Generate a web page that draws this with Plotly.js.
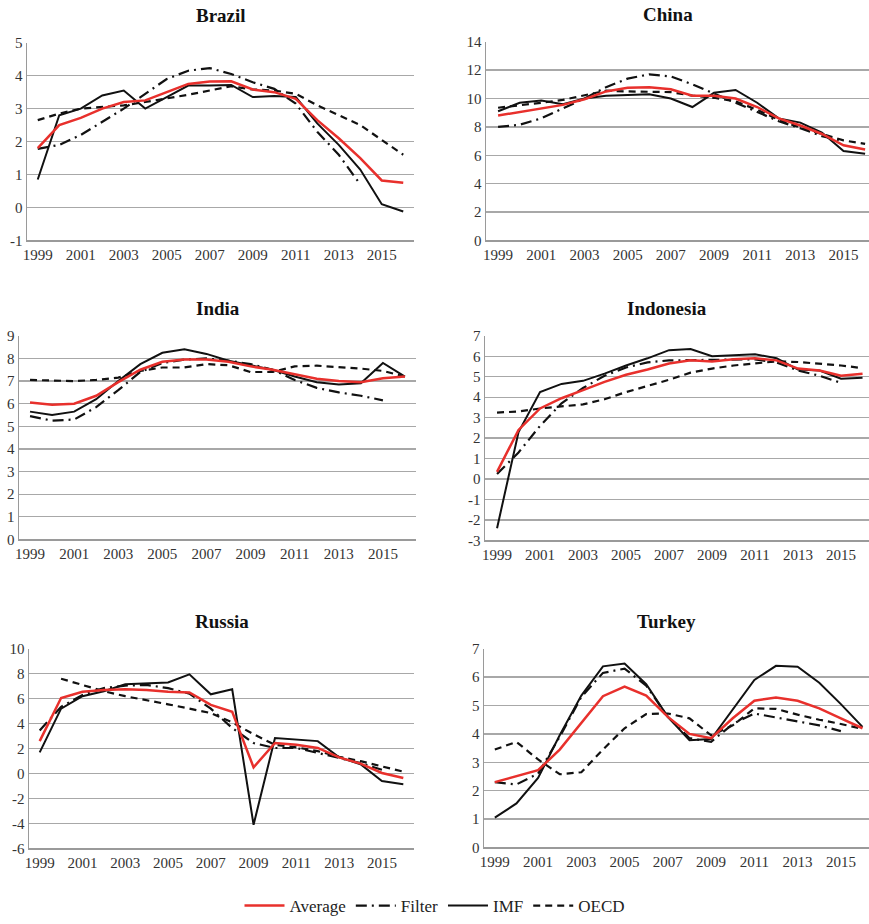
<!DOCTYPE html>
<html>
<head>
<meta charset="utf-8">
<script src="https://cdn.plot.ly/plotly-3.0.1.min.js"></script>
<style>html,body{margin:0;padding:0;background:#fff;}#chart{width:869px;height:924px;}</style>
</head>
<body>
<div id="chart"></div>
<script>
const years = [1999,2000,2001,2002,2003,2004,2005,2006,2007,2008,2009,2010,2011,2012,2013,2014,2015,2016];
const tickYears = [1999,2001,2003,2005,2007,2009,2011,2013,2015];
const seriesNames = ["Average", "Filter", "IMF", "OECD"];
const countries = ["Brazil", "China", "India", "Indonesia", "Russia", "Turkey"];

const brazilAvg    = [1.8,2.5,2.72,3.0,3.2,3.25,3.5,3.75,3.82,3.83,3.58,3.5,3.3,2.65,2.1,1.5,0.82,0.75];
const brazilFilter = [1.78,1.9,2.2,2.6,3.0,3.45,3.9,4.15,4.23,4.05,3.8,3.6,3.15,2.3,1.6,0.7,null,null];
const brazilIMF    = [0.85,2.8,3.0,3.4,3.55,3.0,3.35,3.7,3.7,3.72,3.35,3.38,3.35,2.55,1.9,1.15,0.1,-0.12];
const brazilOECD   = [2.65,2.85,3.0,3.05,3.1,3.2,3.3,3.42,3.55,3.68,3.58,3.55,3.45,3.1,2.8,2.5,2.05,1.6];

const chinaAvg    = [8.8,9.05,9.3,9.55,9.95,10.5,10.75,10.8,10.65,10.2,10.2,10.0,9.4,8.6,8.1,7.5,6.7,6.4];
const chinaFilter = [8.0,8.15,8.6,9.3,10.0,10.8,11.4,11.7,11.55,11.0,10.35,9.7,9.0,8.4,7.9,7.35,7.0,null];
const chinaIMF    = [9.1,9.7,9.85,9.6,10.0,10.2,10.25,10.3,10.0,9.4,10.4,10.6,9.7,8.6,8.3,7.6,6.3,6.1];
const chinaOECD   = [9.35,9.5,9.7,9.9,10.2,10.55,10.5,10.45,10.45,10.2,10.05,9.8,9.2,8.5,7.95,7.5,7.05,6.8];

const indiaAvg    = [6.05,5.95,6.0,6.35,6.95,7.5,7.85,7.95,7.95,7.85,7.65,7.5,7.3,7.1,7.0,6.95,7.12,7.2];
const indiaFilter = [5.45,5.25,5.3,5.85,6.6,7.4,7.8,7.95,8.0,7.9,7.75,7.5,7.05,6.7,6.5,6.35,6.15,null];
const indiaIMF    = [5.65,5.5,5.65,6.2,7.0,7.75,8.25,8.4,8.2,7.9,7.7,7.5,7.2,6.95,6.85,6.9,7.8,7.2];
const indiaOECD   = [7.05,7.02,7.0,7.05,7.15,7.45,7.6,7.6,7.75,7.7,7.4,7.4,7.65,7.68,7.62,7.55,7.45,7.2];

const indonesiaAvg    = [0.35,2.4,3.45,3.95,4.35,4.75,5.1,5.35,5.65,5.8,5.75,5.85,5.9,5.8,5.4,5.3,5.05,5.15];
const indonesiaFilter = [0.25,1.3,2.6,3.7,4.45,5.05,5.45,5.7,5.8,5.82,5.82,5.85,5.85,5.7,5.3,5.05,4.7,null];
const indonesiaIMF    = [-2.4,2.3,4.25,4.65,4.8,5.15,5.55,5.9,6.3,6.35,6.0,6.05,6.1,5.9,5.35,5.3,4.9,4.95];
const indonesiaOECD   = [3.25,3.3,3.45,3.55,3.65,3.9,4.25,4.55,4.85,5.2,5.4,5.55,5.65,5.75,5.72,5.65,5.55,5.42];

const russiaAvg    = [2.6,6.05,6.55,6.7,6.75,6.7,6.55,6.5,5.5,4.95,0.5,2.45,2.3,2.05,1.3,0.8,0.05,-0.35];
const russiaFilter = [3.45,5.35,6.3,6.85,7.05,7.1,6.85,6.4,5.2,3.65,2.45,2.05,2.05,1.65,1.25,0.85,0.3,null];
const russiaIMF    = [1.7,5.2,6.2,6.6,7.15,7.2,7.3,7.95,6.35,6.75,-4.1,2.85,2.75,2.6,1.3,0.75,-0.6,-0.85];
const russiaOECD   = [null,7.6,7.1,6.6,6.2,5.9,5.55,5.2,4.85,4.1,3.15,2.3,2.1,1.8,1.35,1.0,0.55,0.15];

const turkeyAvg    = [2.3,2.52,2.72,3.45,4.4,5.33,5.67,5.35,4.6,4.0,3.85,4.55,5.17,5.28,5.17,4.9,4.55,4.2];
const turkeyFilter = [2.3,2.22,2.6,3.9,5.3,6.15,6.3,5.7,4.6,3.85,3.72,4.35,4.72,4.58,4.45,4.3,4.1,null];
const turkeyIMF    = [1.05,1.55,2.45,3.95,5.35,6.38,6.48,5.75,4.6,3.78,3.82,4.85,5.9,6.4,6.37,5.8,5.05,4.25];
const turkeyOECD   = [3.45,3.72,3.1,2.58,2.65,3.45,4.2,4.7,4.72,4.55,3.95,4.3,4.9,4.88,4.68,4.5,4.35,4.18];

// y tick values per panel (labels written with a plain hyphen as in the original)
const brazilTicks    = [-1,0,1,2,3,4,5];
const chinaTicks     = [0,2,4,6,8,10,12,14];
const indiaTicks     = [0,1,2,3,4,5,6,7,8,9];
const indonesiaTicks = [-3,-2,-1,0,1,2,3,4,5,6,7];
const russiaTicks    = [-6,-4,-2,0,2,4,6,8,10];
const turkeyTicks    = [0,1,2,3,4,5,6,7];

const data = {
  Brazil:[brazilAvg,brazilFilter,brazilIMF,brazilOECD],
  China:[chinaAvg,chinaFilter,chinaIMF,chinaOECD],
  India:[indiaAvg,indiaFilter,indiaIMF,indiaOECD],
  Indonesia:[indonesiaAvg,indonesiaFilter,indonesiaIMF,indonesiaOECD],
  Russia:[russiaAvg,russiaFilter,russiaIMF,russiaOECD],
  Turkey:[turkeyAvg,turkeyFilter,turkeyIMF,turkeyOECD]
};
const yTicks = {Brazil:brazilTicks, China:chinaTicks, India:indiaTicks,
                Indonesia:indonesiaTicks, Russia:russiaTicks, Turkey:turkeyTicks};

// layout geometry (pixels)
const W = 869, H = 924;
const boxes = [
  {x0:27,  x1:414, y0:43,  y1:242, r:[1998.5,2016.5]},
  {x0:486, x1:869, y0:42,  y1:242, r:[1998.44,2016.18]},
  {x0:19,  x1:416, y0:338, y1:543, r:[1998.5,2016.5]},
  {x0:485, x1:869, y0:338, y1:544, r:[1998.44,2016.3]},
  {x0:29,  x1:414, y0:653, y1:854, r:[1998.5,2016.5]},
  {x0:484, x1:869, y0:653, y1:853, r:[1998.5,2016.3]}
];

const styles = [
  {color:'#e8302c', width:2.5, dash:'solid'},
  {color:'#111111', width:2.2, dash:'11px,5px,2px,5px'},
  {color:'#111111', width:2.0, dash:'solid'},
  {color:'#111111', width:2.2, dash:'7px,5px'}
];
const drawOrder = [3,1,2,0];

const FONT = '"Liberation Serif", "Times New Roman", serif';
const traces = [];
const layout = {
  width:W, height:H,
  margin:{l:0,r:0,t:0,b:0},
  paper_bgcolor:'#fff', plot_bgcolor:'rgba(0,0,0,0)',
  showlegend:true,
  legend:{orientation:'h', x:0.5, xanchor:'center', y:1-912/H, yanchor:'middle',
          font:{family:FONT,size:17,color:'#222'}, traceorder:'normal', itemwidth:40,
          bgcolor:'rgba(0,0,0,0)'},
  annotations:[]
};

countries.forEach((c,i)=>{
  const b = boxes[i];
  const ax = i===0 ? '' : String(i+1);
  drawOrder.forEach(s=>{
    traces.push({
      x: years, y: data[c][s], type:'scatter', mode:'lines',
      name: seriesNames[s], legendgroup: seriesNames[s],
      legendrank: s+1,
      showlegend: i===0,
      line: styles[s],
      connectgaps:false,
      xaxis:'x'+ax, yaxis:'y'+ax, hoverinfo:'skip'
    });
  });
  const yt = yTicks[c];
  layout['xaxis'+ax] = {
    domain:[b.x0/W, b.x1/W], anchor:'y'+ax, range:b.r,
    tickmode:'array', tickvals:tickYears, ticktext:tickYears.map(String),
    showgrid:false, zeroline:false, showline:true, linecolor:'#9a9a9a', linewidth:1.5,
    ticks:'', tickfont:{family:FONT,size:15,color:'#333'}, fixedrange:true
  };
  layout['yaxis'+ax] = {
    domain:[1-b.y1/H, 1-b.y0/H], anchor:'x'+ax, range:[yt[0], yt[yt.length-1]],
    tickmode:'array', tickvals:yt, ticktext:yt.map(v=>String(v).replace('\u2212','-')),
    showgrid:true, gridcolor:'#a8a8a8', gridwidth:1.3,
    zeroline:false, showline:true, linecolor:'#9a9a9a', linewidth:1.5,
    ticks:'', tickfont:{family:FONT,size:15,color:'#333'}, fixedrange:true
  };
  layout.annotations.push({
    text:'<b>'+c+'</b>', xref:'paper', yref:'paper',
    x:((b.x0+b.x1)/2 + (i%2===1?-10:0))/W, y:1-(b.y0-27)/H,
    xanchor:'center', yanchor:'middle', showarrow:false,
    font:{family:FONT,size:19,color:'#111'}
  });
});

Plotly.newPlot('chart', traces, layout, {displayModeBar:false, staticPlot:true});
</script>
</body>
</html>
